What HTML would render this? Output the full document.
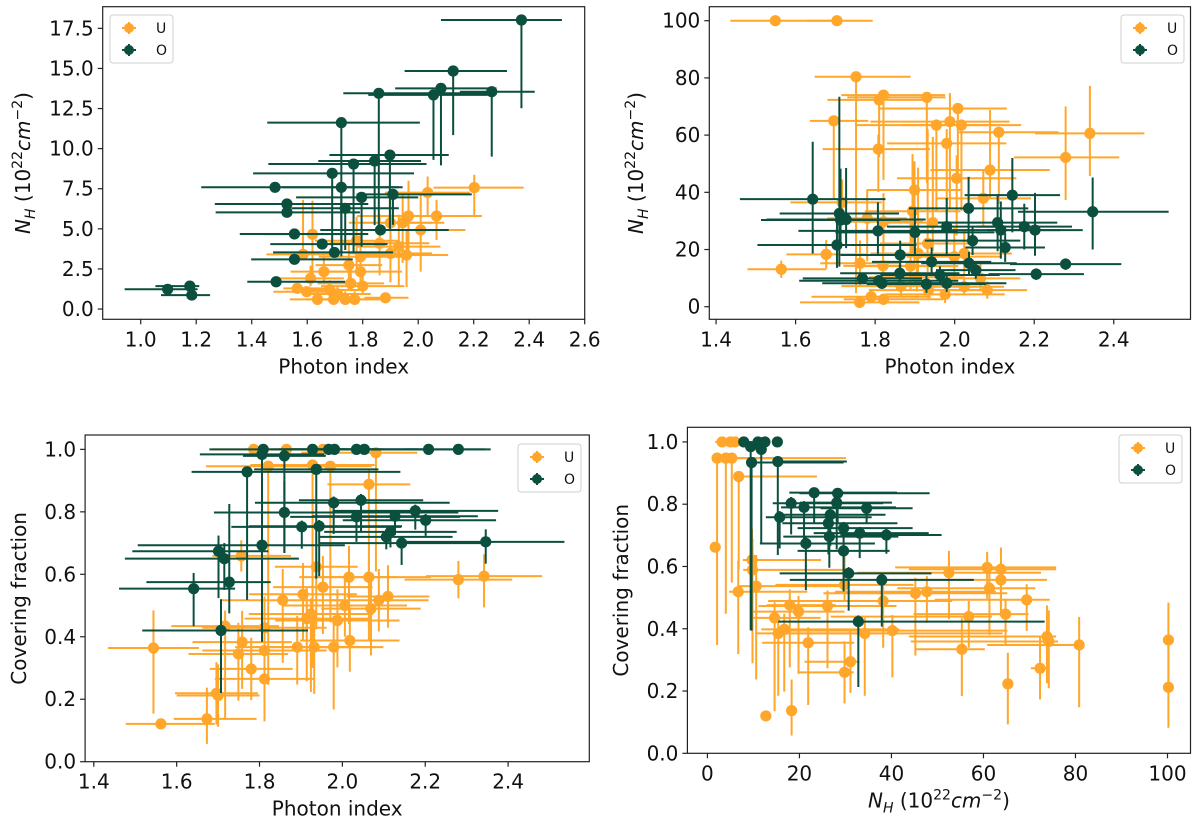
<!DOCTYPE html>
<html><head><meta charset="utf-8"><style>
html,body{margin:0;padding:0;background:#fff;}
svg{display:block;font-family:"DejaVu Sans","Liberation Sans",sans-serif;}
</style></head><body>
<svg id="chart" width="1200" height="826" viewBox="0 0 1200 826" xmlns="http://www.w3.org/2000/svg"></svg>
<script>
// ---------- DATA ----------
// points: [x, y]; errs: [xLo, xHi, yLo, yHi] (deltas)
const p1Xticks = [1.0,1.2,1.4,1.6,1.8,2.0,2.2,2.4,2.6];
const p1Yticks = [0,2.5,5,7.5,10,12.5,15,17.5];
const p1Ylabels = ["0.0","2.5","5.0","7.5","10.0","12.5","15.0","17.5"];
const p1UPts = [[2.202,7.57],[2.034,7.26],[2.066,5.8],[1.965,5.8],[1.944,5.38],[1.9,5.38],[2.009,4.93],[1.619,4.66],[1.861,4.1],[1.778,4.26],[1.93,3.89],[1.958,3.37],[1.9,3.47],[1.585,3.41],[1.792,3.26],[1.75,2.74],[1.66,2.33],[1.612,1.91],[1.792,2.33],[1.8,1.43],[1.757,1.6],[1.564,1.29],[1.598,1.08],[1.681,1.19],[1.709,0.94],[1.637,0.6],[1.695,0.6],[1.737,0.6],[1.771,0.6],[1.882,0.7]];
const p1UErr = [[.147,.178,1.8,.8],[.154,.152,1.5,1],[.166,.164,1.5,1],[.185,.185,2.3,2.2],[.15,.15,2.5,1.8],[.15,.15,2,1.5],[.169,.161,2.6,2.2],[.173,.159,2.5,2.1],[.181,.179,2,1.8],[.15,.15,2,1.5],[.15,.15,2.5,2],[.15,.15,2,1.5],[.15,.15,1.8,1.5],[.132,.131,.2,3.4],[.15,.15,1.5,1.5],[.12,.12,1.5,1.5],[.12,.12,.8,1],[.12,.12,.5,.8],[.15,.15,1,2],[.15,.15,.5,1],[.12,.12,.5,1.5],[.05,.12,.3,.3],[.12,.12,.3,.3],[.12,.12,.4,.6],[.12,.12,.3,.5],[.1,.1,.2,.5],[.1,.1,.2,.5],[.1,.1,.2,.5],[.1,.1,.2,.5],[.076,.083,.2,.2]];
const p1OPts = [[2.372,18.02],[2.126,14.84],[2.082,13.76],[2.055,13.35],[2.265,13.55],[1.858,13.45],[1.723,11.62],[1.898,9.6],[1.843,9.23],[1.767,9.04],[1.69,8.46],[1.484,7.59],[1.723,7.59],[1.796,6.96],[1.909,7.15],[1.527,6.55],[1.527,6.03],[1.737,6.28],[1.554,4.68],[1.864,4.93],[1.654,4.05],[1.698,3.53],[1.554,3.1],[1.488,1.7],[1.097,1.23],[1.177,1.43],[1.184,0.87]];
const p1OErr = [[.29,.146,5.5,.1],[.175,.194,4,.1],[.165,.2,4.8,.2],[.235,.195,4.05,.2],[.115,.155,4.05,.1],[.128,.417,8.5,.1],[.267,.283,8.15,.1],[.218,.212,4.6,.2],[.203,.167,4,.2],[.307,.263,5.57,.2],[.285,.295,5.2,.2],[.266,.46,.3,.3],[.213,.207,4.3,.2],[.236,.204,3.07,.2],[.131,.284,1.9,.2],[.26,.293,.3,.3],[.257,.263,.3,.3],[.194,.193,2.6,.2],[.197,.266,.3,.3],[.217,.246,.3,.3],[.187,.235,.3,.3],[.221,.211,.3,.3],[.156,.21,.3,.3],[.104,.249,.2,.2],[.155,.108,.2,.2],[.124,.034,.2,.2],[.111,.066,.2,.2]];

const p2Xticks = [1.4,1.6,1.8,2.0,2.2,2.4];
const p2Yticks = [0,20,40,60,80,100];
const p2Ylabels = ["0","20","40","60","80","100"];
const p2UPts = [[1.549,100],[1.704,100],[1.752,80.4],[1.821,74],[1.81,72.3],[1.93,73.2],[1.696,65],[2.008,69.3],[1.988,64.7],[1.954,63.5],[2.017,63.5],[2.111,61],[2.34,60.6],[1.98,57.1],[1.808,55.1],[2.279,52.2],[2.089,47.8],[2.005,44.9],[2.072,37.9],[1.717,36.5],[1.899,40.8],[1.894,33.4],[1.78,30.9],[1.821,29.7],[1.945,29.4],[1.677,18.3],[1.564,13.1],[1.762,15.2],[1.82,14.3],[1.908,18.6],[1.932,22.1],[1.999,17.5],[2.024,18.6],[1.889,14.2],[1.905,10.3],[2.065,9.9],[1.865,7.2],[1.934,5.8],[1.976,4.3],[2.082,5.8],[1.761,1.5],[1.79,3.5],[1.821,2.6],[2.024,7]];
const p2UErr = [[.113,.147,0,0],[.075,.09,0,0],[.104,.137,75.7,0],[.106,.155,29.7,.5],[.13,.13,20,1],[.2,.047,30,1],[.06,.087,27.7,0],[.2,.123,25,0],[.2,.15,30,10],[.2,.15,30,2],[.15,.15,30,2],[.1,.15,25,2],[.138,.137,14.9,16.6],[.15,.15,25,5],[.14,.13,15,5],[.13,.135,14.9,17.8],[.15,.15,10,21],[.15,.15,20,8],[.12,.12,10,10],[.13,.1,8,8],[.12,.12,25,10],[.12,.12,15,20],[.1,.1,15,10],[.1,.1,10,10],[.12,.12,10,30],[.1,.1,5,5],[.085,.113,3,3],[.1,.1,8,8],[.1,.1,8,8],[.12,.12,10,30],[.12,.12,10,40],[.12,.12,8,10],[.12,.12,8,8],[.12,.12,8,20],[.12,.12,5,10],[.1,.1,4,6],[.15,.15,4,4],[.15,.15,3,4],[.15,.15,3,3],[.1,.1,3,3],[.15,.15,1,2],[.15,.15,2,2],[.1,.15,2,2],[.1,.1,3,3]];
const p2OPts = [[1.643,37.6],[1.71,32.6],[1.713,30.3],[1.727,30.5],[1.704,21.6],[1.807,26.5],[1.863,18.1],[1.9,26],[1.98,28],[2.035,34.4],[2.045,23.1],[2.108,29.4],[2.116,26.8],[2.145,39],[2.175,28],[2.202,26.8],[2.127,20.7],[2.347,33.2],[2.279,14.9],[2.205,11.4],[1.942,15.7],[2.036,15.2],[2.053,12.8],[1.862,11.7],[1.768,9.9],[1.809,9.1],[1.817,8.2],[1.929,7.9],[1.963,11.1],[1.98,8.2]];
const p2OErr = [[.183,.183,19,20.1],[.15,.15,18.6,40.8],[.2,.15,10,18],[.2,.2,10,18],[.2,.2,8,10],[.2,.2,8,10],[.15,.15,5,5],[.2,.2,8,8],[.15,.15,10,10],[.15,.15,11,11],[.12,.12,5,5],[.15,.15,10,10],[.15,.15,10,10],[.12,.12,13,13],[.12,.12,8,8],[.12,.12,9,13],[.1,.1,5,5],[.188,.191,13.2,12],[.14,.14,2,2],[.12,.12,2,2],[.15,.15,5,5],[.12,.12,4,4],[.1,.1,3,3],[.15,.15,3,3],[.15,.15,2,2],[.2,.2,2,2],[.15,.15,2,2],[.15,.15,3,3],[.15,.15,3,3],[.15,.15,3,3]];

const p3Xticks = [1.4,1.6,1.8,2.0,2.2,2.4];
const p3Yticks = [0,0.2,0.4,0.6,0.8,1.0];
const p3Ylabels = ["0.0","0.2","0.4","0.6","0.8","1.0"];
const p3UPts = [[1.786,1],[1.865,1],[1.953,1],[2.081,.989],[1.821,.946],[1.928,.95],[1.971,.946],[2.064,.888],[1.756,.659],[1.937,.624],[2.016,.591],[2.064,.591],[2.28,.583],[2.342,.594],[1.953,.559],[1.905,.536],[1.856,.517],[2.11,.529],[2.088,.517],[2.006,.5],[2.069,.49],[1.914,.458],[1.988,.452],[1.717,.434],[1.812,.429],[1.924,.473],[1.758,.383],[2.018,.388],[1.891,.367],[1.932,.367],[1.544,.364],[1.812,.356],[1.749,.345],[1.979,.367],[1.78,.297],[1.812,.265],[1.696,.219],[1.7,.212],[1.673,.137],[1.562,.121]];
const p3UErr = [[.1,.1,0,0],[.1,.1,0,0],[.1,.1,0,0],[.18,.1,.38,0],[.15,.15,.7,0],[.15,.15,.65,0],[.12,.1,.5,0],[.1,.1,.3,.05],[.07,.12,.05,.05],[.1,.1,.2,.1],[.12,.12,.15,.1],[.12,.15,.2,.05],[.13,.13,.06,.06],[.14,.14,.1,.07],[.12,.12,.15,.1],[.13,.13,.15,.1],[.15,.15,.2,.1],[.1,.1,.1,.1],[.12,.12,.1,.1],[.15,.15,.1,.1],[.12,.12,.15,.1],[.15,.15,.2,.1],[.15,.15,.15,.1],[.13,.13,.3,.05],[.15,.15,.3,.1],[.15,.15,.25,.05],[.12,.12,.15,.1],[.12,.12,.1,.1],[.15,.15,.12,.1],[.15,.15,.15,.1],[.11,.11,.21,.12],[.15,.15,.2,.1],[.12,.12,.15,.1],[.12,.12,.2,.1],[.1,.1,.1,.1],[.12,.12,.1,.1],[.1,.1,.1,.1],[.1,.1,.1,.1],[.08,.12,.08,.1],[.085,.13,.01,.01]];
const p3OPts = [[1.809,1],[1.928,1],[1.967,1],[1.981,1],[2.034,1],[2.053,1],[2.208,1],[2.28,1],[1.806,.984],[1.86,.979],[1.77,.928],[1.937,.936],[1.979,.829],[2.045,.837],[1.86,.798],[2.034,.784],[2.176,.803],[2.127,.786],[2.201,.773],[1.902,.752],[1.944,.754],[2.116,.736],[2.106,.72],[2.143,.7],[2.346,.704],[1.806,.693],[1.701,.674],[1.715,.65],[1.727,.575],[1.641,.554],[1.707,.42]];
const p3OErr = [[.13,.2,0,0],[.1,.1,0,0],[.12,.12,0,0],[.12,.12,0,0],[.1,.15,0,0],[.1,.15,0,0],[.15,.15,0,0],[.13,.065,0,0],[.15,.15,.6,0],[.1,.1,.31,0],[.134,.37,.41,0],[.15,.15,.35,0],[.19,.28,.1,.02],[.15,.15,.1,.02],[.17,.42,.13,.1],[.16,.25,.08,.02],[.2,.2,.06,.02],[.2,.2,.06,.02],[.2,.17,.05,.02],[.17,.24,.07,.02],[.17,.2,.16,.02],[.16,.16,.05,.02],[.16,.16,.04,.02],[.2,.2,.07,.02],[.2,.19,.07,.04],[.3,.2,.3,.05],[.208,.12,.15,.05],[.24,.18,.1,.05],[.2,.1,.1,.25],[.18,.1,.12,.05],[.19,.21,.2,.1]];

const p4Xticks = [0,20,40,60,80,100];
const p4Yticks = [0,0.2,0.4,0.6,0.8,1.0];
const p4Ylabels = ["0.0","0.2","0.4","0.6","0.8","1.0"];
const p4UPts = [[3.2,1],[5,1],[6,1],[2.1,.948],[4,.948],[5.3,.948],[6.8,.889],[1.7,.662],[9.7,.621],[9.8,.589],[10.6,.537],[6.7,.519],[29.8,.541],[52.5,.58],[60.8,.597],[63.8,.591],[63.8,.557],[61.3,.53],[45.2,.514],[47.7,.519],[69.4,.493],[38.2,.489],[17.9,.476],[19.8,.455],[26.1,.473],[64.8,.447],[56.8,.439],[14.6,.435],[16.7,.398],[15.4,.385],[40.2,.394],[34.2,.385],[21.9,.355],[73.8,.375],[74.2,.359],[80.8,.348],[55.3,.334],[100.2,.364],[100.2,.212],[31.1,.294],[29.8,.26],[72.3,.273],[65.3,.223],[12.7,.12],[18.3,.137]];
const p4UErr = [[1.5,3,0,0],[2,2,0,0],[2,2,0,0],[.5,28,.6,0],[1,10,.5,0],[1,10,.4,0],[1,17,.3,0],[.2,.2,0,0],[2,15,.2,.1],[2,20,.3,.1],[4,20,.3,.1],[2,15,.2,.1],[15,15,.05,.1],[20,20,.15,.07],[20,15,.1,.05],[20,12,.15,.07],[20,10,.1,.05],[20,10,.15,.05],[20,20,.2,.05],[20,15,.1,.05],[20,5,.1,.05],[25,15,.15,.05],[5,10,.2,.05],[10,10,.2,.05],[15,15,.2,.05],[20,5,.1,.05],[30,5,.1,.05],[5,10,.3,.05],[5,25,.2,.05],[5,25,.2,.05],[25,25,.15,.05],[20,30,.2,.05],[10,10,.2,.05],[30,2,.15,.1],[30,2,.15,.1],[20,1,.2,.09],[10,5,.15,.1],[0,0,.15,.12],[0,0,.13,.14],[10,2,.1,.1],[10,2,.1,.1],[2,2,.1,.1],[1,1,.13,.1],[0,0,0,0],[0,0,.08,.1]];
const p4OPts = [[7.9,1],[11,1],[12.5,1],[15.2,1],[9.4,.985],[11.7,.976],[9.6,.934],[15.3,.937],[23.2,.837],[28.3,.835],[18.2,.803],[21,.79],[34.6,.787],[28.1,.805],[15.7,.758],[26.7,.766],[26.3,.739],[29.6,.723],[33.1,.707],[38.9,.701],[26.5,.696],[21.4,.674],[29.6,.65],[30.7,.578],[37.9,.557],[32.8,.423]];
const p4OErr = [[1,1,0,0],[1,1,0,0],[1,1,0,0],[1,1,0,0],[1,1,.59,0],[1,1,.3,0],[1,20,.54,0],[1,15,.3,0],[5.4,18,.1,0],[8.3,20,.1,0],[4,20,.1,.02],[5,20,.12,.02],[10,10,.05,.02],[8,12,.15,.02],[3,20,.1,.02],[10,12,.1,.02],[10,15,.1,.02],[10,15,.15,.02],[10,15,.08,.02],[10,12,.06,.02],[10,15,.1,.02],[10,15,.15,.02],[10,10,.13,.02],[15,18,.12,.02],[20,20,.15,.02],[17.4,40.5,.21,.02]];

// ---------- RENDER ----------
const NS = "http://www.w3.org/2000/svg";
const svg = document.getElementById("chart");
const CU = "#ffa62b", CO = "#0b4f3f";
function mk(tag, attrs, parent){const e=document.createElementNS(NS,tag);for(const k in attrs)e.setAttribute(k,attrs[k]);parent.appendChild(e);return e;}

function mathLabel(t){
  t.innerHTML = '<tspan font-style="italic">N</tspan><tspan font-style="italic" font-size="14" dy="5">H</tspan><tspan dy="-5"> (10</tspan><tspan font-size="14" dy="-8">22</tspan><tspan font-style="italic" dy="8">cm</tspan><tspan font-size="14" dy="-8">−2</tspan><tspan dy="8">)</tspan>';
}

function panel(id, box, xlim, ylim, xticks, xlabels, yticks, ylabels, xTitle, yTitle, ylx, U, UE, O, OE, legendPos){
  const g = mk("g",{},svg);
  
  
  const sx = v => box.L + (v - xlim[0])/(xlim[1]-xlim[0])*(box.R-box.L);
  const sy = v => box.B - (v - ylim[0])/(ylim[1]-ylim[0])*(box.B-box.T);
  const clipId = id+"-clip";
  const defs = mk("defs",{},g);
  const cp = mk("clipPath",{id:clipId},defs);
  mk("rect",{x:box.L,y:box.T,width:box.R-box.L,height:box.B-box.T},cp);
  const plot = mk("g",{"clip-path":"url(#"+clipId+")"},g);
  
  
  function series(P, E, col, name){
    const sg = mk("g",{},plot);
    
    
    P.forEach((p,i)=>{
      const e = E[i];
      const cx = sx(p[0]), cy = sy(p[1]);
      const pg = mk("g",{},sg);
      
      
      mk("line",{x1:sx(p[0]-e[0]),x2:sx(p[0]+e[1]),y1:cy,y2:cy,stroke:col,"stroke-width":2},pg);
      mk("line",{x1:cx,x2:cx,y1:sy(p[1]-e[2]),y2:sy(p[1]+e[3]),stroke:col,"stroke-width":2},pg);
      mk("circle",{cx:cx,cy:cy,r:5.6,fill:col},pg);
    });
  }
  series(U,UE,CU,"U");
  series(O,OE,CO,"O");
  const frame = mk("rect",{x:box.L,y:box.T,width:box.R-box.L,height:box.B-box.T,fill:"none",stroke:"#222","stroke-width":1.2},g);
  
  
  const xa = mk("g",{},g);
  
  
  xticks.forEach((v,i)=>{
    const x = sx(v);
    mk("line",{x1:x,x2:x,y1:box.B,y2:box.B+5,stroke:"#222","stroke-width":1.2},xa);
    const t = mk("text",{x:x,y:box.B+27,"text-anchor":"middle","font-size":20,fill:"#111"},xa);
    
    
    t.textContent = xlabels[i];
  });
  const ya = mk("g",{},g);
  
  
  yticks.forEach((v,i)=>{
    const y = sy(v);
    mk("line",{x1:box.L-5,x2:box.L,y1:y,y2:y,stroke:"#222","stroke-width":1.2},ya);
    const t = mk("text",{x:box.L-9,y:y+7,"text-anchor":"end","font-size":20,fill:"#111"},ya);
    
    
    t.textContent = ylabels[i];
  });
  const xt = mk("text",{x:(box.L+box.R)/2,y:box.B+54,"text-anchor":"middle","font-size":20,fill:"#111"},g);
  
  
  if(xTitle==="NH") mathLabel(xt); else xt.textContent = xTitle;
  const ycx = ylx + 7, ycy = (box.T+box.B)/2;
  const yt = mk("text",{x:ycx,y:ycy,"text-anchor":"middle","font-size":20,fill:"#111",transform:"rotate(-90 "+ycx+" "+ycy+")"},g);
  
  
  if(yTitle==="NH") mathLabel(yt); else yt.textContent = yTitle;
  // legend
  const lg = mk("g",{},g);
  
  
  mk("rect",{x:legendPos[0],y:legendPos[1],width:63,height:48,rx:3,fill:"#fff","fill-opacity":0.85,stroke:"#d0d0d0","stroke-width":1},lg);
  [["U",CU],["O",CO]].forEach((en,k)=>{
    const ly = legendPos[1]+13+k*22, lx = legendPos[0]+19;
    const eg = mk("g",{},lg);
    
    
    mk("line",{x1:lx-7,x2:lx+7,y1:ly,y2:ly,stroke:en[1],"stroke-width":2},eg);
    mk("line",{x1:lx,x2:lx,y1:ly-6,y2:ly+6,stroke:en[1],"stroke-width":2},eg);
    mk("circle",{cx:lx,cy:ly,r:5,fill:en[1]},eg);
    const t = mk("text",{x:lx+27,y:ly+5,"font-size":14,fill:"#111"},eg);
    t.textContent = en[0];
  });
}

panel("panel-nh-vs-gamma",{L:102.7,R:584.7,T:6.7,B:319.3},[0.863,2.6],[-0.64,18.85],
  p1Xticks,p1Xticks.map(v=>v.toFixed(1)),p1Yticks,p1Ylabels,"Photon index","NH",23,p1UPts,p1UErr,p1OPts,p1OErr,[110,15]);
panel("panel-nh-vs-gamma-2",{L:709.3,R:1190.5,T:6.7,B:319.3},[1.383,2.593],[-4.4,104.9],
  p2Xticks,p2Xticks.map(v=>v.toFixed(1)),p2Yticks,p2Ylabels,"Photon index","NH",636,p2UPts,p2UErr,p2OPts,p2OErr,[1121,15]);
panel("panel-cf-vs-gamma",{L:85.1,R:589.3,T:435,B:761.7},[1.379,2.596],[0,1.046],
  p3Xticks,p3Xticks.map(v=>v.toFixed(1)),p3Yticks,p3Ylabels,"Photon index","Covering fraction",19,p3UPts,p3UErr,p3OPts,p3OErr,[518,444]);
panel("panel-cf-vs-nh",{L:687.4,R:1190.5,T:427.3,B:753.3},[-4.35,105],[0,1.047],
  p4Xticks,p4Xticks.map(v=>String(v)),p4Yticks,p4Ylabels,"NH","Covering fraction",621,p4UPts,p4UErr,p4OPts,p4OErr,[1119,435]);
</script>
</body></html>
